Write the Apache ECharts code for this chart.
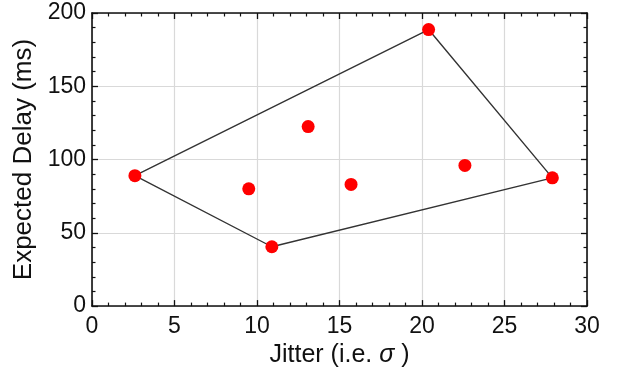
<!DOCTYPE html>
<html><head><meta charset="utf-8">
<script src="https://cdn.jsdelivr.net/npm/echarts@6/dist/echarts.min.js"></script>
<style>html,body{margin:0;padding:0;background:#fff}#c{width:619px;height:373px}</style>
</head><body><div id="c"></div>
<script>
const jitter = [2.6, 9.5, 10.9, 13.1, 15.7, 20.4, 22.6, 27.9];
const delay  = [89, 80, 40.5, 122.5, 83, 188.7, 96, 87.5];
const hullJitter = [2.6, 20.4, 27.9, 10.9, 2.6];
const hullDelay  = [89, 188.7, 87.5, 40.5, 89];
const xTicks = [0, 5, 10, 15, 20, 25, 30];
const yTicks = [0, 50, 100, 150, 200];

const FONT = 'Liberation Sans';
const chart = echarts.init(document.getElementById('c'));
const axisCommon = {
  axisLine: {show: true, onZero: false, lineStyle: {color: '#111', width: 1.6}},
  axisTick: {show: true, inside: true, length: 6, lineStyle: {color: '#111', width: 1.3}},
  minorTick: {show: true, splitNumber: 5, length: 3.5, lineStyle: {color: '#111', width: 1.2}},
};
chart.setOption({
  animation: false,
  grid: {left: 92, right: 32, top: 13, bottom: 64},
  xAxis: [
    Object.assign({type: 'value', min: xTicks[0], max: xTicks[xTicks.length-1], interval: 5, position: 'bottom',
      name: 'Jitter (i.e. {s|σ} )', nameLocation: 'middle', nameGap: 36,
      nameTextStyle: {fontFamily: FONT, fontSize: 25, color: '#111',
        rich: {s: {fontFamily: FONT, fontStyle: 'italic', fontSize: 25, color: '#111'}}},
      axisLabel: {fontFamily: FONT, fontSize: 23, color: '#111', margin: 9},
      splitLine: {show: true, lineStyle: {color: '#d9d9d9', width: 1.2}}}, axisCommon),
    Object.assign({type: 'value', min: 0, max: 30, interval: 5, position: 'top',
      axisLabel: {show: false}, splitLine: {show: false}}, axisCommon)
  ],
  yAxis: [
    Object.assign({type: 'value', min: yTicks[0], max: yTicks[yTicks.length-1], interval: 50, position: 'left',
      name: 'Expected Delay (ms)', nameLocation: 'middle', nameGap: 55,
      nameTextStyle: {fontFamily: FONT, fontSize: 26, color: '#111'},
      axisLabel: {fontFamily: FONT, fontSize: 23, color: '#111', margin: 6},
      splitLine: {show: true, lineStyle: {color: '#d9d9d9', width: 1.2}}}, axisCommon),
    Object.assign({type: 'value', min: 0, max: 200, interval: 50, position: 'right',
      axisLabel: {show: false}, splitLine: {show: false}}, axisCommon)
  ],
  series: [
    {type: 'line', data: hullJitter.map((x, i) => [x, hullDelay[i]]), showSymbol: false, symbol: 'none',
     lineStyle: {color: '#333', width: 1.4}, z: 2},
    {type: 'scatter', data: jitter.map((x, i) => [x, delay[i]]), symbolSize: 13,
     itemStyle: {color: '#ff0000', opacity: 1}, z: 3}
  ]
});
</script></body></html>
